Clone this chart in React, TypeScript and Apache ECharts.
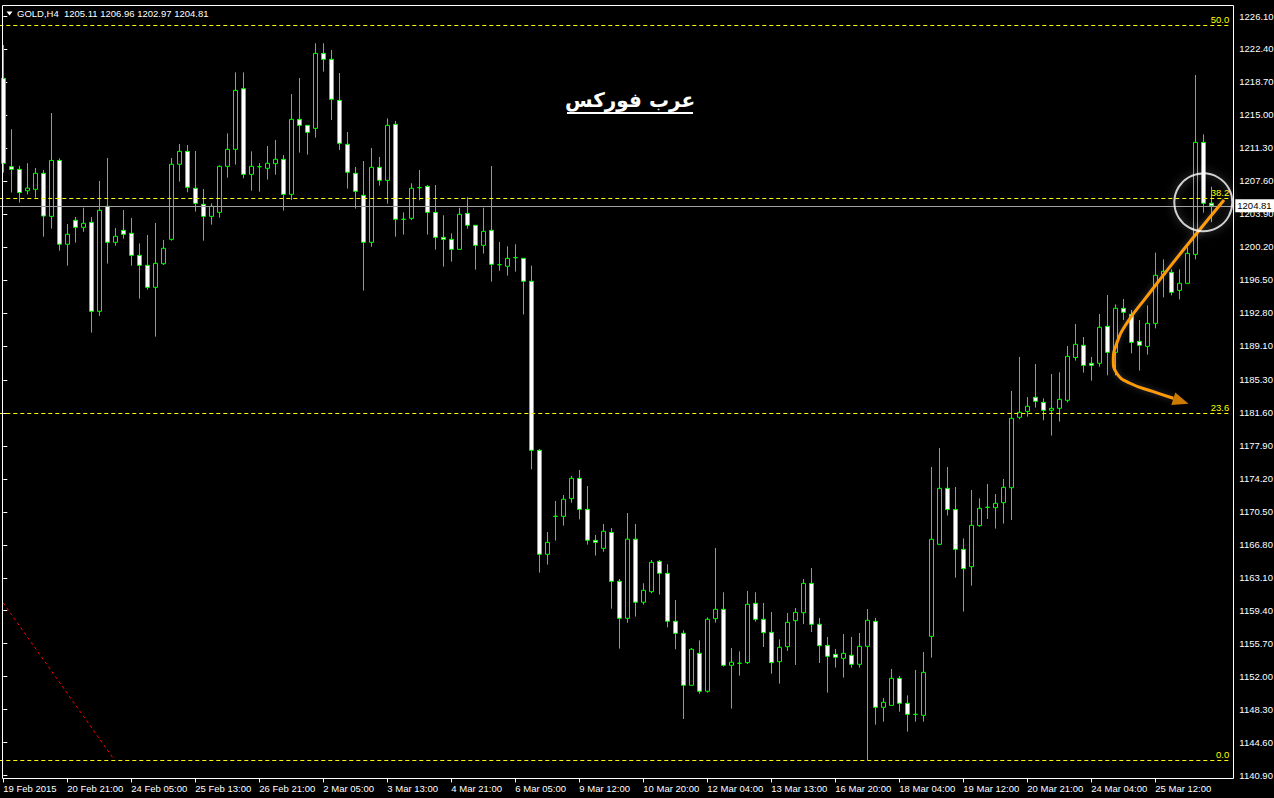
import React, { useEffect, useRef } from 'react';
import * as echarts from 'echarts';

// ---- candle data (H4 GOLD), index 0..151 ----
const opens = [
  1219.11, 1209.2, 1208.9, 1206.5, 1206.66, 1208.46, 1203.63, 1209.9, 1200.5, 1203.19,
  1202.4, 1202.96, 1192.98, 1204.76, 1200.72, 1202.06, 1201.73, 1199.26, 1198.14, 1195.67,
  1198.32, 1201.05, 1209.47, 1210.92, 1206.78, 1204.98, 1203.63, 1204.08, 1209.24, 1211.15,
  1217.95, 1208.34, 1209.2, 1209.02, 1209.54, 1210.03, 1206.1, 1214.51, 1213.84, 1213.5,
  1221.91, 1221.24, 1216.64, 1211.71, 1208.46, 1205.99, 1200.72, 1209.13, 1207.67, 1213.95,
  1203.3, 1203.41, 1206.85, 1207.0, 1204.08, 1201.28, 1201.05, 1199.93, 1203.97, 1202.63,
  1200.38, 1202.06, 1198.21, 1198.03, 1199.0, 1198.92, 1196.35, 1177.39, 1165.73, 1169.99,
  1169.99, 1171.97, 1174.25, 1170.77, 1167.3, 1166.4, 1168.19, 1162.7, 1158.55, 1167.43,
  1160.35, 1161.54, 1164.94, 1163.6, 1158.22, 1156.87, 1151.04, 1154.63, 1150.37, 1158.51,
  1159.56, 1153.28, 1153.51, 1153.58, 1160.23, 1158.44, 1156.98, 1153.69, 1155.37, 1158.29,
  1159.18, 1162.47, 1157.88, 1155.52, 1154.51, 1154.06, 1154.4, 1153.39, 1155.41, 1158.21,
  1148.57, 1148.79, 1151.82, 1149.02, 1147.78, 1147.67, 1156.53, 1166.85, 1173.13, 1170.76,
  1166.29, 1164.34, 1168.94, 1171.0, 1170.96, 1171.52, 1173.2, 1181.09, 1181.76, 1183.34,
  1182.77, 1181.88, 1182.1, 1183.0, 1187.8, 1189.17, 1187.15, 1187.15, 1191.3, 1188.38,
  1193.32, 1192.64, 1189.61, 1189.05, 1191.63, 1197.09, 1197.35, 1195.33, 1196.12, 1199.37,
  1211.93, 1205.11,
];
const closes = [
  1209.58, 1208.9, 1206.3, 1206.8, 1208.46, 1203.67, 1209.9, 1200.5, 1201.62, 1202.4,
  1202.85, 1192.98, 1204.31, 1200.72, 1201.39, 1201.62, 1199.26, 1198.14, 1195.67, 1198.36,
  1200.05, 1209.47, 1210.92, 1206.89, 1205.09, 1203.63, 1204.76, 1209.24, 1211.15, 1217.76,
  1208.34, 1209.24, 1209.2, 1209.58, 1210.03, 1206.1, 1214.51, 1213.84, 1213.05, 1221.91,
  1221.24, 1216.76, 1211.82, 1208.57, 1206.44, 1200.72, 1209.13, 1207.67, 1213.84, 1203.3,
  1203.3, 1206.78, 1206.85, 1204.08, 1201.28, 1201.05, 1199.93, 1203.86, 1202.63, 1200.38,
  1201.95, 1198.25, 1198.21, 1198.92, 1199.0, 1196.35, 1177.39, 1165.73, 1167.07, 1169.99,
  1171.9, 1174.25, 1170.77, 1167.3, 1167.07, 1168.31, 1162.7, 1158.55, 1167.43, 1160.35,
  1161.69, 1164.83, 1163.6, 1158.22, 1156.87, 1151.04, 1155.08, 1150.37, 1158.44, 1159.56,
  1153.28, 1153.62, 1153.51, 1160.12, 1158.44, 1156.94, 1153.58, 1155.3, 1158.1, 1159.22,
  1162.47, 1157.88, 1155.48, 1154.29, 1154.18, 1154.62, 1153.39, 1155.41, 1158.33, 1148.57,
  1149.13, 1151.82, 1149.02, 1147.78, 1147.78, 1152.49, 1167.41, 1173.13, 1170.76, 1166.29,
  1164.12, 1168.98, 1170.89, 1171.0, 1171.45, 1173.24, 1180.98, 1181.65, 1182.33, 1182.89,
  1181.88, 1182.1, 1183.11, 1187.93, 1189.28, 1186.92, 1186.92, 1191.19, 1188.38, 1193.32,
  1192.87, 1189.5, 1189.17, 1191.63, 1197.02, 1197.47, 1195.11, 1196.12, 1199.48, 1211.93,
  1205.1, 1204.81,
];
const lows = [
  1208.53, 1206.3, 1205.17, 1206.1, 1205.73, 1201.35, 1202.25, 1199.78, 1198.1, 1200.68,
  1201.9, 1190.59, 1192.46, 1198.33, 1200.34, 1201.13, 1198.1, 1194.4, 1195.41, 1190.14,
  1198.18, 1200.9, 1207.52, 1206.33, 1204.16, 1200.9, 1202.7, 1203.48, 1207.97, 1209.43,
  1207.9, 1206.51, 1206.4, 1207.75, 1208.3, 1204.27, 1205.47, 1210.78, 1210.55, 1212.46,
  1219.86, 1214.44, 1211.07, 1206.74, 1204.5, 1195.3, 1200.23, 1207.07, 1205.05, 1201.35,
  1201.58, 1203.22, 1205.43, 1201.58, 1199.9, 1197.99, 1198.55, 1199.93, 1202.25, 1197.65,
  1199.45, 1196.31, 1197.54, 1196.98, 1197.43, 1192.62, 1175.26, 1163.67, 1164.57, 1167.26,
  1168.94, 1171.52, 1169.65, 1166.81, 1165.58, 1166.02, 1159.63, 1155.15, 1158.06, 1158.74,
  1160.08, 1161.36, 1161.21, 1157.54, 1155.08, 1147.26, 1151.04, 1150.1, 1150.22, 1158.07,
  1153.13, 1148.42, 1152.12, 1153.43, 1158.18, 1155.33, 1152.34, 1151.22, 1154.89, 1153.32,
  1157.91, 1157.02, 1153.54, 1150.21, 1153.02, 1151.9, 1153.02, 1153.02, 1142.66, 1146.62,
  1146.96, 1148.79, 1148.08, 1145.84, 1146.96, 1146.96, 1154.14, 1166.85, 1170.07, 1163.11,
  1159.3, 1162.21, 1168.83, 1169.69, 1168.61, 1169.17, 1169.58, 1180.87, 1181.17, 1182.18,
  1180.76, 1179.04, 1180.61, 1182.77, 1187.45, 1186.1, 1185.2, 1186.77, 1185.8, 1185.8,
  1192.0, 1188.27, 1186.33, 1188.12, 1191.07, 1194.55, 1194.77, 1194.32, 1196.12, 1198.81,
  1204.04, 1202.97,
];
const highs = [
  1222.85, 1213.4, 1209.3, 1209.6, 1209.05, 1208.83, 1215.22, 1210.14, 1202.77, 1203.56,
  1204.6, 1203.56, 1207.6, 1210.18, 1202.33, 1204.34, 1203.45, 1200.6, 1201.54, 1202.89,
  1200.98, 1210.18, 1211.75, 1211.63, 1210.96, 1206.7, 1205.09, 1209.35, 1212.94, 1219.78,
  1219.78, 1210.92, 1209.6, 1211.52, 1212.2, 1210.51, 1217.35, 1219.15, 1213.84, 1223.04,
  1223.04, 1222.29, 1219.71, 1213.09, 1209.17, 1209.84, 1211.3, 1210.29, 1214.62, 1214.33,
  1204.08, 1207.34, 1208.83, 1207.15, 1207.15, 1203.75, 1201.73, 1204.6, 1205.77, 1202.63,
  1204.6, 1209.28, 1200.76, 1200.27, 1200.5, 1198.92, 1198.1, 1177.54, 1168.23, 1171.71,
  1172.38, 1174.51, 1175.19, 1173.39, 1167.9, 1169.13, 1168.68, 1162.96, 1170.36, 1169.13,
  1162.48, 1165.09, 1165.09, 1164.61, 1160.61, 1157.21, 1155.23, 1156.08, 1158.66, 1166.44,
  1161.47, 1155.23, 1154.85, 1161.62, 1161.47, 1160.27, 1159.26, 1156.19, 1159.15, 1159.71,
  1162.96, 1164.2, 1158.59, 1156.46, 1155.11, 1156.79, 1156.46, 1156.91, 1159.6, 1158.59,
  1149.61, 1152.87, 1152.08, 1149.91, 1152.76, 1154.77, 1175.52, 1177.65, 1175.52, 1173.28,
  1167.52, 1172.94, 1172.01, 1173.62, 1172.49, 1174.18, 1184.05, 1187.86, 1183.37, 1187.07,
  1183.22, 1185.95, 1186.14, 1189.09, 1191.56, 1190.1, 1187.86, 1192.68, 1194.81, 1193.76,
  1194.36, 1193.13, 1192.0, 1193.65, 1199.56, 1198.81, 1197.69, 1197.69, 1200.16, 1219.48,
  1212.83, 1206.96,
];

const dateLabels = [
  '19 Feb 2015', '20 Feb 21:00', '24 Feb 05:00', '25 Feb 13:00', '26 Feb 21:00',
  '2 Mar 05:00', '3 Mar 13:00', '4 Mar 21:00', '6 Mar 05:00', '9 Mar 12:00',
  '10 Mar 20:00', '12 Mar 04:00', '13 Mar 13:00', '16 Mar 20:00', '18 Mar 04:00',
  '19 Mar 12:00', '20 Mar 21:00', '24 Mar 04:00', '25 Mar 12:00',
];
const priceTicks = [
  1226.1, 1222.4, 1218.7, 1215.0, 1211.3, 1207.6, 1203.9, 1200.2, 1196.5, 1192.8,
  1189.1, 1185.3, 1181.6, 1177.9, 1174.2, 1170.5, 1166.8, 1163.1, 1159.4, 1155.7,
  1152.0, 1148.3, 1144.6, 1140.9,
];
const fibLevels = ['50.0', '38.2', '23.6', '0.0'];
const fibPrices = [1225.09, 1205.64, 1181.57, 1142.66];
const lastPrice = 1204.81;
const headerText = 'GOLD,H4  1205.11 1206.96 1202.97 1204.81';
const watermark = 'عرب فوركس';

// annotation drawn in data space (candle index, price)
const trendLine = [[0, 1160.27], [13.71, 1142.89]];
const arrowPath = [
  [152.59, 1205.47], [149.18, 1201.73], [145.84, 1197.99], [142.93, 1194.62],
  [140.43, 1191.64], [139.18, 1189.39], [138.75, 1187.52], [139.18, 1186.03],
  [140.84, 1184.91], [143.75, 1183.97], [146.25, 1183.23],
];
const arrowHead = [147.2, 1182.9];
const circleCenter = [150.0, 1205.2];

const SLOTS = 154;
const Y_MIN = 1140.586;
const Y_MAX = 1227.334;
const FONT = "'Liberation Sans', Arial, sans-serif";
const FS = 9.5;

export default function App() {
  const ref = useRef<HTMLDivElement>(null);
  useEffect(() => {
    document.body.style.margin = '0';
    document.body.style.background = '#000';
    const chart = echarts.init(ref.current!, null, { renderer: 'svg' });
    const cats = Array.from({ length: SLOTS }, (_, i) => String(i));
    const candles = opens.map((o, i) => [o, closes[i], lows[i], highs[i]]);
    const showIdx = (i: number) => i % 8 === 0 && i / 8 < dateLabels.length;

    chart.setOption({
      animation: false,
      backgroundColor: '#000',
      grid: {
        left: -0.7,
        top: 5,
        width: SLOTS * 8,
        height: 773.5,
        containLabel: false,
        outerBoundsMode: 'none',
      },
      xAxis: [
        {
          type: 'category',
          data: cats,
          boundaryGap: true,
          axisLine: { show: false },
          axisTick: {
            show: true,
            alignWithLabel: true,
            interval: (i: number) => showIdx(i),
            length: 4,
            lineStyle: { color: '#fff' },
          },
          axisLabel: {
            interval: (i: number) => showIdx(i),
            formatter: (_v: string, i: number) => dateLabels[i / 8] ?? '',
            align: 'left',
            color: '#fff',
            fontSize: FS,
            fontFamily: FONT,
            margin: 5,
            hideOverlap: false,
          },
          splitLine: { show: false },
        },
        {
          type: 'value',
          min: -0.5,
          max: SLOTS - 0.5,
          show: false,
        },
      ],
      yAxis: {
        type: 'value',
        position: 'right',
        offset: 2,
        min: Y_MIN,
        max: Y_MAX,
        axisLine: { show: false },
        splitLine: { show: false },
        axisTick: {
          show: true,
          customValues: priceTicks,
          length: 4,
          lineStyle: { color: '#fff' },
        },
        axisLabel: {
          customValues: priceTicks,
          formatter: (v: number) => v.toFixed(2),
          color: '#fff',
          fontSize: FS,
          fontFamily: FONT,
          margin: 6,
          hideOverlap: false,
        },
      },
      series: [
        {
          type: 'candlestick',
          xAxisIndex: 0,
          data: candles,
          barWidth: 4,
          itemStyle: {
            color: '#000',
            color0: '#fff',
            borderColor: '#00ff00',
            borderColor0: '#00ff00',
            borderWidth: 1,
          },
          markLine: {
            silent: true,
            symbol: ['none', 'none'],
            data: [
              ...fibPrices.map((p, i) => ({
                yAxis: p,
                lineStyle: { color: '#ffff00', type: [4, 3], width: 1 },
                label: {
                  show: true,
                  position: 'insideEndTop',
                  formatter: fibLevels[i],
                  color: '#ffff00',
                  fontSize: FS,
                  fontFamily: FONT,
                  distance: [2, 1],
                },
              })),
              {
                yAxis: lastPrice,
                lineStyle: { color: '#a0a0a0', type: 'solid', width: 1 },
                label: {
                  show: true,
                  position: 'end',
                  formatter: lastPrice.toFixed(2),
                  color: '#000',
                  backgroundColor: '#fff',
                  padding: [2, 4, 1, 2],
                  fontSize: FS,
                  fontFamily: FONT,
                  distance: 4,
                },
              },
            ],
          },
          z: 2,
        },
        {
          type: 'line',
          xAxisIndex: 1,
          data: trendLine,
          symbol: 'none',
          silent: true,
          lineStyle: { color: '#ff0000', width: 1, type: [3, 3] },
          z: 3,
        },
        {
          type: 'line',
          xAxisIndex: 1,
          data: arrowPath,
          smooth: 0.5,
          symbol: 'none',
          silent: true,
          lineStyle: { color: '#ff9a00', width: 3, shadowBlur: 6, shadowColor: 'rgba(255,255,255,0.25)' },
          z: 5,
        },
        {
          type: 'scatter',
          xAxisIndex: 1,
          data: [arrowHead],
          symbol: 'triangle',
          symbolSize: [13, 16],
          symbolRotate: -108,
          silent: true,
          itemStyle: { color: '#ff9a00' },
          z: 5,
        },
        {
          type: 'scatter',
          xAxisIndex: 1,
          data: [circleCenter],
          symbol: 'circle',
          symbolSize: 58,
          silent: true,
          itemStyle: {
            color: 'rgba(0,0,0,0)',
            borderColor: '#ffffff',
            borderWidth: 2,
            shadowBlur: 8,
            shadowColor: 'rgba(255,255,255,0.5)',
          },
          z: 6,
        },
      ],
      graphic: [
        {
          type: 'rect',
          shape: { x: 2.5, y: 5.5, width: 1231, height: 773 },
          style: { fill: 'none', stroke: '#fff', lineWidth: 1 },
          silent: true,
          z: 10,
        },
        {
          type: 'polygon',
          shape: { points: [[6.5, 11.5], [12.5, 11.5], [9.5, 15.5]] },
          style: { fill: '#fff' },
          silent: true,
          z: 10,
        },
        {
          type: 'text',
          x: 17,
          y: 13.5,
          style: {
            text: headerText,
            fill: '#fff',
            font: `9.5px ${FONT}`,
            verticalAlign: 'middle',
          },
          silent: true,
          z: 10,
        },
        {
          type: 'text',
          x: 630,
          y: 100,
          style: {
            text: watermark,
            fill: '#fff',
            font: "bold 20px 'DejaVu Sans', sans-serif",
            align: 'center',
            verticalAlign: 'middle',
          },
          silent: true,
          z: 10,
        },
        {
          type: 'line',
          shape: { x1: 567, y1: 113, x2: 693, y2: 113 },
          style: { stroke: '#fff', lineWidth: 2 },
          silent: true,
          z: 10,
        },
      ],
    });
    return () => chart.dispose();
  }, []);
  return <div ref={ref} style={{ width: 1274, height: 798, background: '#000' }} />;
}
